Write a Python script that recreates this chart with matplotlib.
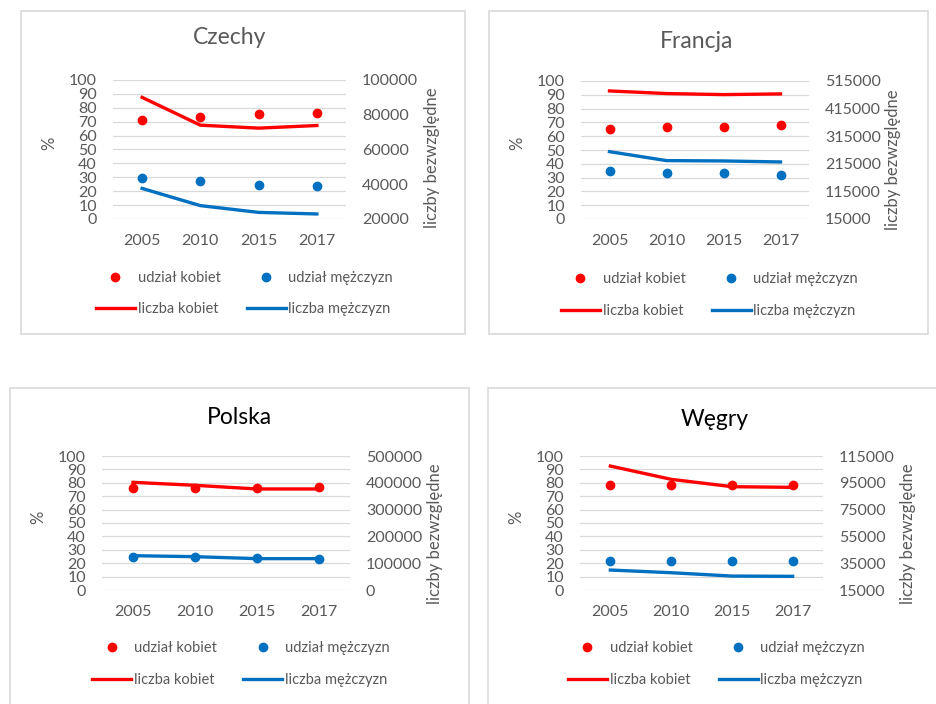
import matplotlib
matplotlib.use("Agg")
import matplotlib.pyplot as plt
from matplotlib.patches import Rectangle

plt.rcParams['font.family'] = ['Lato', 'DejaVu Sans']

years = ['2005', '2010', '2015', '2017']

# Czechy
cz_share_women = [71.0, 73.5, 75.5, 76.5]
cz_share_men = [29.5, 27.0, 24.5, 23.5]
cz_count_women = [90000, 74000, 72300, 73800]
cz_count_men = [37600, 27700, 23800, 22900]

# Francja
fr_share_women = [65.0, 67.0, 67.0, 68.0]
fr_share_men = [35.0, 33.0, 33.0, 32.0]
fr_count_women = [479000, 469500, 465700, 468200]
fr_count_men = [259000, 226600, 225300, 221700]

# Polska
pl_share_women = [75.8, 75.8, 76.2, 77.0]
pl_share_men = [24.5, 24.5, 23.7, 23.5]
pl_count_women = [401800, 390600, 377000, 377000]
pl_count_men = [128000, 124400, 117000, 117000]

# Węgry
hu_share_women = [78.5, 78.5, 78.5, 78.5]
hu_share_men = [22.0, 22.0, 22.0, 22.0]
hu_count_women = [107500, 97600, 92100, 91600]
hu_count_men = [29900, 27900, 25400, 25200]

RED = '#ff0000'
BLUE = '#0070c0'
GREY = '#595959'
GRID = '#d9d9d9'
W, H = 936, 704

fig = plt.figure(figsize=(W / 100, H / 100), dpi=100)


def fx(x):
    return x / W


def fy(y):
    return 1 - y / H


def panel(frame, box, title, title_xy, title_color, pct_xy, abs_xy, legend_xy,
          share_w, share_m, count_w, count_m, lim2, ticks2):
    # chart border
    x0, y0, x1, y1 = frame
    fig.patches.append(Rectangle((fx(x0), fy(y1)), (x1 - x0) / W, (y1 - y0) / H,
                                 transform=fig.transFigure, fill=False,
                                 edgecolor='#d9d9d9', lw=1.2))
    l, t, r, b = box
    ax = fig.add_axes([fx(l), fy(b), (r - l) / W, (b - t) / H])
    xs = range(len(years))
    ax.set_xlim(-0.5, len(years) - 0.5)
    ax.set_ylim(0, 100)
    ax.set_yticks(range(0, 101, 10))
    ax.set_xticks(list(xs))
    ax.set_xticklabels(years)
    ax.grid(axis='y', color=GRID, lw=0.9)
    ax.set_axisbelow(True)
    for s in ax.spines.values():
        s.set_visible(False)
    ax.tick_params(length=0, colors=GREY, labelsize=11.5)
    ax.tick_params(axis='y', pad=11.5)
    ax.tick_params(axis='x', pad=11, labelsize=11.5)

    ax2 = ax.twinx()
    ax2.set_ylim(*lim2)
    ax2.set_yticks(ticks2)
    for s in ax2.spines.values():
        s.set_visible(False)
    ax2.tick_params(length=0, colors=GREY, labelsize=11.5, pad=11.5)

    h1, = ax.plot(xs, share_w, 'o', color=RED, ms=6, label='udział kobiet')
    h2, = ax.plot(xs, share_m, 'o', color=BLUE, ms=6, label='udział mężczyzn')
    h3, = ax2.plot(xs, count_w, '-', color=RED, lw=2.4, label='liczba kobiet')
    h4, = ax2.plot(xs, count_m, '-', color=BLUE, lw=2.4, label='liczba mężczyzn')

    fig.text(fx(title_xy[0]), fy(title_xy[1]), title, ha='center', va='center',
             fontsize=16.5, color=title_color)
    fig.text(fx(pct_xy[0]), fy(pct_xy[1]), '%', ha='center', va='center',
             rotation=90, fontsize=12, color=GREY)
    fig.text(fx(abs_xy[0]), fy(abs_xy[1]), 'liczby bezwzględne', ha='center',
             va='center', rotation=90, fontsize=12, color=GREY)

    leg = fig.legend(handles=[h1, h3, h2, h4], ncol=2, loc='center',
                     bbox_to_anchor=(fx(legend_xy[0]), fy(legend_xy[1])),
                     frameon=False, fontsize=10.5, numpoints=1,
                     handlelength=2.67, handletextpad=0.2, columnspacing=1.78,
                     labelspacing=1.2, borderpad=0)
    for txt in leg.get_texts():
        txt.set_color(GREY)


panel((21, 11, 465, 334), (113, 80, 346, 219), 'Czechy', (230, 38), GREY,
      (49, 143), (432, 158), (244.5, 293.5),
      cz_share_women, cz_share_men, cz_count_women, cz_count_men,
      (20000, 100000), range(20000, 100001, 20000))

panel((489, 11, 928, 334), (581, 81, 809, 219), 'Francja', (697, 41), GREY,
      (517, 143), (893, 160), (709.5, 295),
      fr_share_women, fr_share_men, fr_count_women, fr_count_men,
      (15000, 515000), range(15000, 515001, 100000))

panel((10, 388, 469, 720), (102, 456, 350, 590), 'Polska', (239, 418), 'black',
      (38, 517), (435, 534), (241, 664),
      pl_share_women, pl_share_men, pl_count_women, pl_count_men,
      (0, 500000), range(0, 500001, 100000))

panel((488, 388, 960, 720), (580, 456, 823, 590), 'Węgry', (715, 420), 'black',
      (516, 517), (908, 534), (716.5, 664),
      hu_share_women, hu_share_men, hu_count_women, hu_count_men,
      (15000, 115000), range(15000, 115001, 20000))

fig.savefig('out.png', dpi=100, facecolor='white')
